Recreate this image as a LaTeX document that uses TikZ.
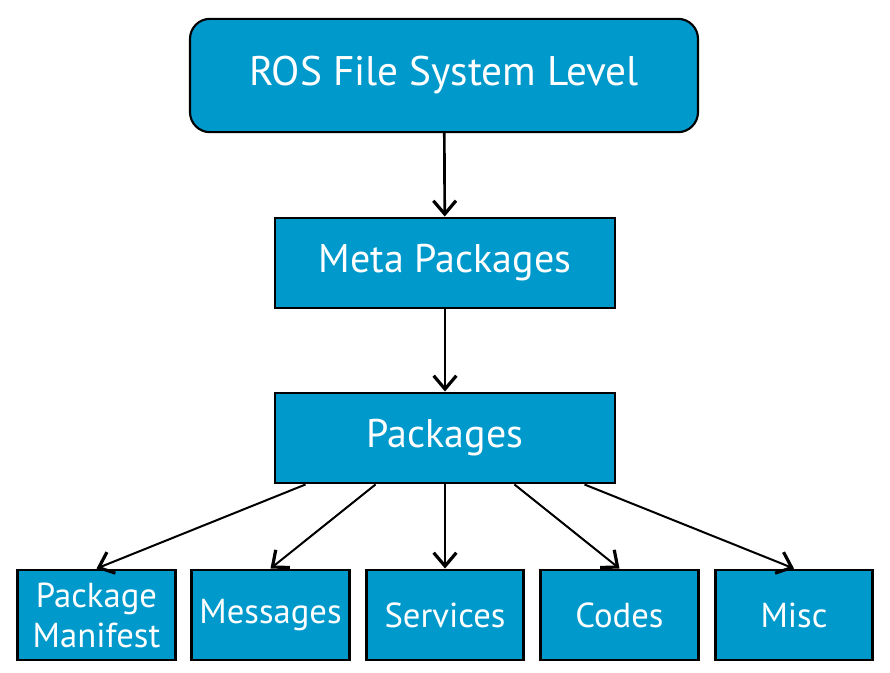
\documentclass[tikz,border=0pt]{standalone}
\usepackage{fontspec}
\setmainfont{PT Sans}
\usetikzlibrary{arrows.meta,positioning}
\definecolor{rosblue}{HTML}{0099CC}
\begin{document}
\begin{tikzpicture}[x=0.75pt,y=-0.75pt,
  box/.style={draw=black,fill=rosblue,text=white,line width=2.2pt,inner sep=0pt,
    minimum width=255pt,minimum height=67.5pt,align=center},
  leaf/.style={box,minimum width=118pt,font=\fontsize{26}{29}\selectfont},
  link/.style={line width=2pt,-{Straight Barb[length=10pt,width=17pt,line width=2.4pt]}},
  thin/.style={link,line width=1.5pt}]
\useasboundingbox (0,0) rectangle (890,672);
\node[box,rounded corners=15pt,line width=1.6pt,minimum width=381pt,minimum height=85pt,
  font=\fontsize{31}{35}\selectfont] (fs) at (444,75.5) {ROS File System Level};
\node[box,font=\fontsize{30}{34}\selectfont] (meta) at (445,263) {Meta Packages};
\node[box,font=\fontsize{30}{34}\selectfont] (pkg) at (445,438) {Packages};
\node[leaf] (manifest) at (96.5,615) {Package\\[1pt]Manifest};
\node[leaf] (msg) at (270.5,615) {\raisebox{2pt}{Messages}};
\node[leaf] (srv) at (445,615) {Services};
\node[leaf] (code) at (619.5,615) {Codes};
\node[leaf] (misc) at (794,615) {Misc};
\draw[link] (fs) -- (meta);
\draw[link] (meta) -- (pkg);
\draw[link] (pkg) -- (srv);
\draw[thin] (pkg.south west) ++(32,0) -- (manifest.north);
\draw[thin] (pkg.south west) ++(102,0) -- (msg.north);
\draw[thin] (pkg.south east) ++(-102,0) -- (code.north);
\draw[thin] (pkg.south east) ++(-32,0) -- (misc.north);
\end{tikzpicture}
\end{document}
